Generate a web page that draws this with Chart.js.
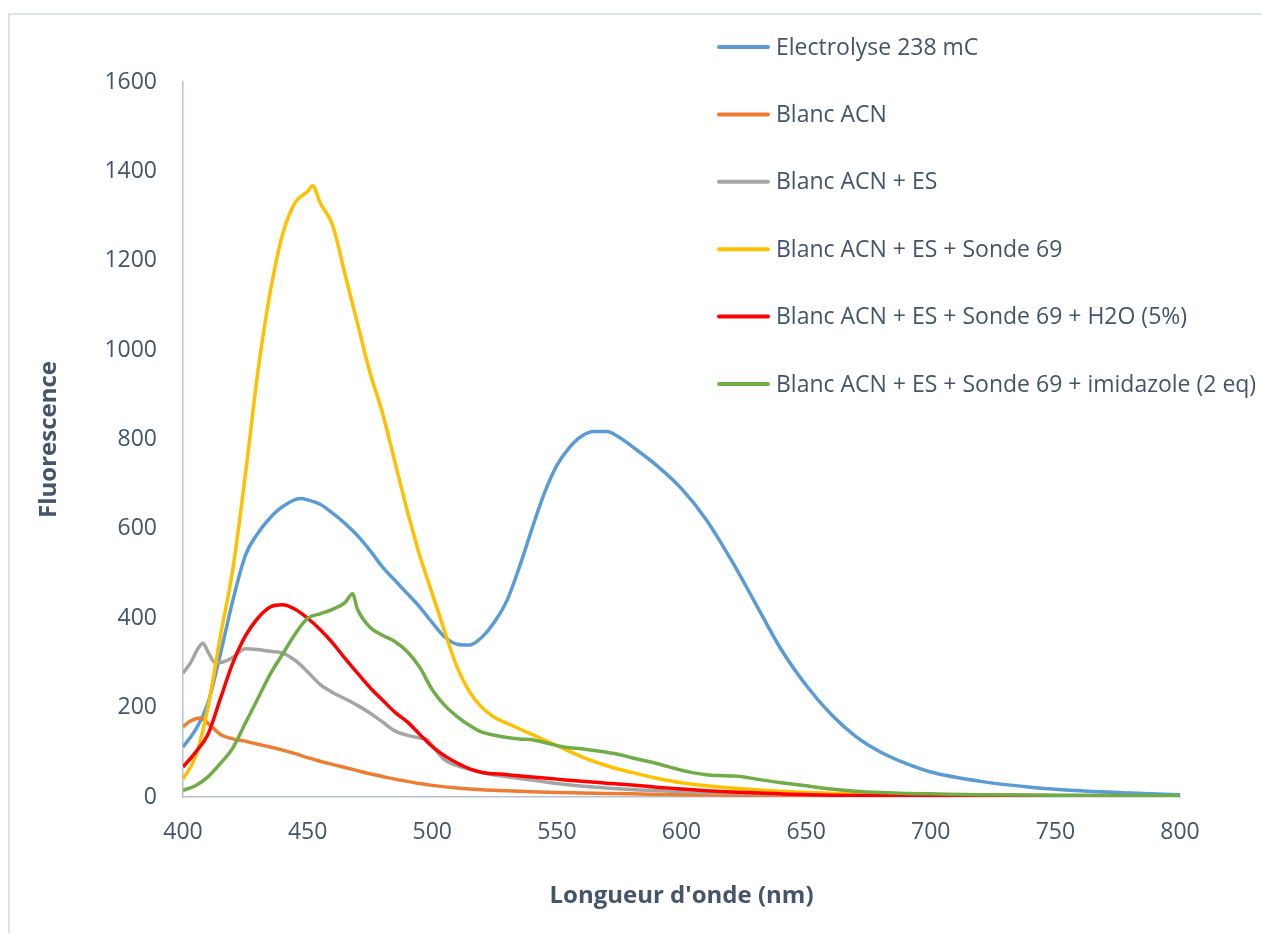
<!DOCTYPE html>
<html>
<head>
<meta charset="utf-8">
<script src="https://cdn.jsdelivr.net/npm/chart.js@4.4.1/dist/chart.umd.min.js"></script>
<style>
    html, body { margin: 0; padding: 0; background: #fff; }
    #wrap { width: 1262px; height: 933px; position: relative; }
</style>
</head>
<body>
<div id="wrap"><canvas id="myChart" width="1262" height="933"></canvas></div>
<script>
// data (wavelength in nm, fluorescence)
const seriesLabels = [
    "Electrolyse 238 mC",
    "Blanc ACN",
    "Blanc ACN + ES",
    "Blanc ACN + ES + Sonde 69",
    "Blanc ACN + ES + Sonde 69 + H2O (5%)",
    "Blanc ACN + ES + Sonde 69 + imidazole (2 eq)"
]
const seriesColors = ["#5B9BD5", "#ED7D31", "#A5A5A5", "#FFC000", "#FF0000", "#70AD47"]

const electrolyseX = [400, 405, 410, 415, 420, 425, 430, 435, 440, 447, 450, 455, 460, 465, 470, 475, 480, 485, 490, 495, 500, 505, 510, 515, 520, 525, 530, 535, 540, 545, 550, 555, 560, 565, 570, 575, 580, 590, 600, 610, 620, 630, 640, 650, 660, 670, 680, 690, 700, 720, 740, 760, 780, 800]
const electrolyseY = [112, 150, 210, 320, 440, 540, 590, 625, 650, 668, 665, 655, 635, 612, 585, 552, 515, 485, 455, 425, 390, 358, 342, 340, 358, 392, 440, 515, 600, 680, 742, 782, 808, 818, 818, 805, 785, 742, 690, 620, 530, 430, 330, 250, 185, 135, 100, 75, 56, 35, 22, 14, 9, 5]

const blancX = [400, 403, 407, 410, 412, 415, 420, 425, 430, 435, 440, 445, 450, 455, 460, 465, 470, 475, 480, 485, 490, 495, 500, 510, 520, 530, 540, 550, 560, 580, 600, 650, 700, 800]
const blancY = [157, 170, 177, 165, 155, 140, 130, 125, 118, 112, 105, 97, 88, 80, 73, 66, 59, 52, 46, 40, 35, 30, 26, 20, 16, 14, 12, 10, 9, 7, 5, 3, 2, 1]

const esX = [400, 403, 406, 408, 410, 413, 416, 420, 425, 430, 435, 440, 445, 450, 455, 460, 465, 470, 475, 480, 485, 490, 495, 498, 500, 505, 510, 520, 530, 540, 550, 570, 600, 650, 700, 800]
const esY = [277, 300, 332, 344, 325, 300, 302, 312, 332, 330, 326, 322, 306, 280, 252, 234, 220, 205, 188, 168, 148, 138, 132, 128, 115, 83, 70, 55, 45, 38, 30, 20, 12, 6, 3, 2]

const sondeX = [400, 405, 410, 415, 420, 425, 430, 435, 440, 445, 450, 452, 455, 460, 465, 470, 475, 480, 485, 490, 495, 500, 505, 510, 515, 520, 525, 530, 540, 550, 560, 570, 580, 590, 600, 620, 650, 700, 800]
const sondeY = [40, 90, 200, 360, 510, 720, 950, 1130, 1260, 1330, 1355, 1368, 1330, 1280, 1170, 1060, 950, 860, 750, 640, 540, 455, 370, 290, 235, 200, 178, 165, 140, 115, 90, 70, 55, 42, 32, 20, 10, 5, 2]

const eauX = [400, 405, 410, 415, 420, 425, 430, 435, 440, 445, 450, 455, 460, 465, 470, 475, 480, 485, 490, 495, 500, 505, 510, 515, 520, 530, 540, 550, 560, 570, 580, 590, 600, 610, 620, 640, 660, 700, 800]
const eauY = [67, 100, 140, 220, 300, 360, 400, 425, 430, 420, 400, 375, 345, 310, 277, 245, 217, 190, 168, 140, 113, 92, 76, 63, 55, 50, 45, 40, 35, 31, 27, 22, 18, 14, 11, 7, 4, 2, 1]

const imidazoleX = [400, 405, 410, 415, 420, 425, 430, 435, 440, 445, 450, 455, 460, 465, 468, 470, 475, 480, 485, 490, 495, 500, 505, 510, 515, 520, 525, 530, 535, 540, 545, 550, 555, 560, 565, 570, 575, 580, 590, 600, 605, 610, 615, 620, 625, 630, 640, 650, 660, 670, 680, 690, 700, 720, 750, 800]
const imidazoleY = [15, 25, 45, 75, 110, 165, 220, 275, 320, 365, 400, 410, 420, 435, 455, 420, 380, 362, 348, 325, 290, 240, 205, 180, 160, 145, 138, 133, 130, 128, 122, 115, 110, 108, 104, 100, 95, 88, 75, 60, 54, 50, 48, 47, 45, 40, 32, 25, 18, 13, 10, 8, 7, 5, 4, 3]

const seriesX = [electrolyseX, blancX, esX, sondeX, eauX, imidazoleX]
const seriesY = [electrolyseY, blancY, esY, sondeY, eauY, imidazoleY]

const xTicks = [400, 450, 500, 550, 600, 650, 700, 750, 800]
const yTicks = [0, 200, 400, 600, 800, 1000, 1200, 1400, 1600]

const textColor = "#44546A"
const axisColor = "#B8C2CF"

function main() {
    buildChart("myChart")
}

function buildDatasets() {
    return seriesLabels.map((label, i) => ({
        label: label,
        data: seriesX[i].map((x, j) => ({ x: x, y: seriesY[i][j] })),
        borderColor: seriesColors[i],
        backgroundColor: seriesColors[i],
        borderWidth: 3.5,
        pointRadius: 0,
        cubicInterpolationMode: "monotone",
        order: seriesLabels.length - i
    }))
}

// frame + legend drawn over the plot like the original
const framePlugin = {
    id: "frame",
    beforeDraw(chart) {
        const ctx = chart.ctx
        ctx.save()
        ctx.fillStyle = "#fff"
        ctx.fillRect(0, 0, chart.width, chart.height)
        ctx.strokeStyle = "#DDE3EA"
        ctx.lineWidth = 2
        ctx.strokeRect(9, 14, chart.width + 20, chart.height + 20)
        ctx.restore()
    },
    afterDraw(chart) {
        const ctx = chart.ctx
        ctx.save()
        ctx.font = "23px 'Open Sans'"
        ctx.textBaseline = "middle"
        chart.data.datasets.forEach((ds, i) => {
            const y = 47 + i * 67.4
            ctx.strokeStyle = ds.borderColor
            ctx.lineWidth = 4
            ctx.lineCap = "round"
            ctx.beginPath()
            ctx.moveTo(719, y)
            ctx.lineTo(768, y)
            ctx.stroke()
            ctx.fillStyle = textColor
            ctx.fillText(ds.label, 776, y + 1)
        })
        ctx.restore()
    }
}

function buildChart(canvasId) {
    const ctx = document.getElementById(canvasId)

    new Chart(ctx, {
        type: "line",
        data: { datasets: buildDatasets() },
        plugins: [framePlugin],
        options: {
            responsive: false,
            animation: false,
            layout: { padding: { left: 0, top: 82, right: 82, bottom: 0 } },
            plugins: {
                legend: { display: false },
                tooltip: { enabled: false }
            },
            scales: {
                x: {
                    type: "linear",
                    min: 400,
                    max: 800,
                    afterBuildTicks: (scale) => { scale.ticks = xTicks.map(v => ({ value: v })) },
                    afterFit: (scale) => { scale.height = 136 },
                    grid: { display: false, drawTicks: false },
                    border: { display: true, color: axisColor, width: 1.5 },
                    ticks: {
                        color: textColor,
                        font: { family: "'Open Sans'", size: 23 },
                        padding: 22,
                        maxRotation: 0,
                        callback: (v) => String(v)
                    },
                    title: {
                        display: true,
                        text: "Longueur d'onde (nm)",
                        color: textColor,
                        font: { family: "'Open Sans'", size: 24, weight: "bold" },
                        padding: { top: 0, bottom: 22 }
                    }
                },
                y: {
                    type: "linear",
                    min: 0,
                    max: 1600,
                    afterBuildTicks: (scale) => { scale.ticks = yTicks.map(v => ({ value: v })) },
                    afterFit: (scale) => { scale.width = 183 },
                    grid: { display: false, drawTicks: false },
                    border: { display: true, color: axisColor, width: 1.5 },
                    ticks: {
                        color: textColor,
                        font: { family: "'Open Sans'", size: 23 },
                        padding: 26,
                        callback: (v) => String(v)
                    },
                    title: {
                        display: true,
                        text: "Fluorescence",
                        color: textColor,
                        font: { family: "'Open Sans'", size: 24, weight: "bold" },
                        padding: { top: 35, bottom: 0 }
                    }
                }
            }
        }
    })
}

document.addEventListener("DOMContentLoaded", main)
</script>
</body>
</html>
